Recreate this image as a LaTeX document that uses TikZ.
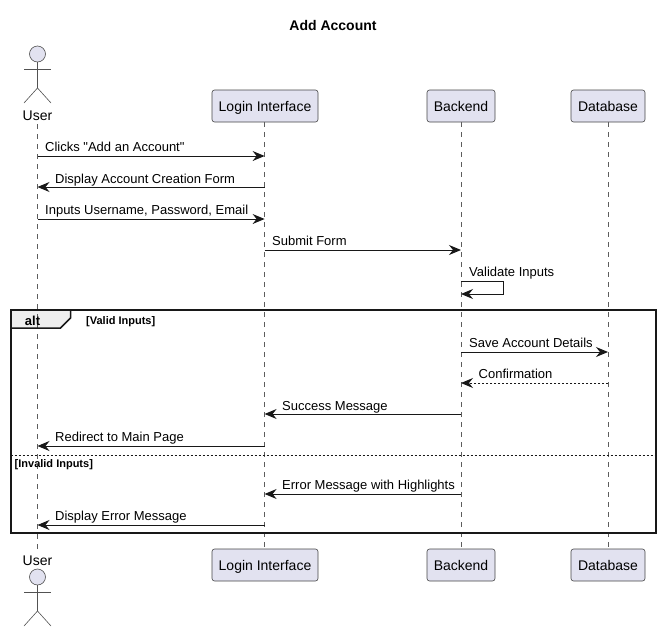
\documentclass[tikz,border=0pt]{standalone}
\usepackage{fontspec}
\setmainfont[Ligatures=TeXOff]{Liberation Sans}
\usepackage{tikz}
\usetikzlibrary{arrows.meta,positioning,calc}
\definecolor{linea}{HTML}{181818}
\definecolor{lila}{HTML}{E2E2F0}
\definecolor{gristab}{HTML}{EEEEEE}
\tikzset{
  partbox/.style={draw=linea!80,line width=.6pt,rounded corners=2.5pt,fill=lila,
    minimum height=32pt,inner sep=0pt,text height=12pt,text depth=1pt,font=\fontsize{14}{16}\selectfont},
  partword/.style={inner sep=0pt,text height=12pt,text depth=1pt,font=\fontsize{14}{16}\selectfont},
  lifeline/.style={draw=linea!70,line width=.6pt,dash pattern=on 5pt off 5pt},
  stick/.style={draw=linea!75,line width=.6pt},
  msg/.style={-{Stealth[length=12pt,width=10pt,inset=4pt]},draw=linea,line width=1pt},
  msgback/.style={msg,dash pattern=on 2pt off 2pt},
  msgword/.style={anchor=base west,inner sep=0pt,font=\fontsize{13}{15}\selectfont},
  guardword/.style={anchor=base west,inner sep=0pt,font=\fontsize{11}{13}\selectfont\bfseries},
  framebox/.style={draw=linea,line width=2pt},
  splitline/.style={draw=linea,line width=.8pt,dash pattern=on 2pt off 2pt}
}

\begin{document}
\begin{tikzpicture}[x=1pt,y=-1pt]
\useasboundingbox (0,0) rectangle (662,632);
\node[inner sep=0pt,font=\fontsize{14}{16}\selectfont\bfseries] (title) at (333,25) {Add Account};

% lifelines go under the boxes
\coordinate (userT) at (37.5,124);
\coordinate (userE) at (37.5,549);
\coordinate (loginT) at (264.6,122);
\coordinate (loginE) at (264.6,549);
\coordinate (backendT) at (461,122);
\coordinate (backendE) at (461,549);
\coordinate (databaseT) at (608,122);
\coordinate (databaseE) at (608,549);

% alt frame
\coordinate (fTL) at (10.5,310);
\coordinate (fBR) at (656,533);
\coordinate (tabA) at (10.5,328);
\coordinate (tabB) at (60.5,328);
\coordinate (tabC) at (70.5,318);
\coordinate (tabD) at (70.5,310);
\coordinate (splitL) at (10.5,455.5);
\coordinate (splitR) at (656,455.5);
\fill[gristab] (fTL)--(tabD)--(tabC)--(tabB)--(tabA)--cycle;

\draw[lifeline] (userT)--(userE);
\draw[lifeline] (loginT)--(loginE);
\draw[lifeline] (backendT)--(backendE);
\draw[lifeline] (databaseT)--(databaseE);

% participants
\node[partword] (user) at (37.5,115) {User};
\node[partbox,minimum width=106pt] (login) at (265,106) {Login Interface};
\node[partbox,minimum width=68pt] (backend) at (461,106) {Backend};
\node[partbox,minimum width=74pt] (database) at (608,106) {Database};
\node[partword] (userB) at (37.5,559.5) {User};
\node[partbox,minimum width=106pt] (loginB) at (265,565) {Login Interface};
\node[partbox,minimum width=68pt] (backendB) at (461,565) {Backend};
\node[partbox,minimum width=74pt] (databaseB) at (608,565) {Database};

% actors
\node[circle,stick,fill=lila,minimum size=16pt,inner sep=0pt] (head) at (37.5,54) {};
\coordinate (hip) at (37.5,88);
\coordinate (armL) at (24,69);
\coordinate (armR) at (51,69);
\coordinate (legL) at (24,103);
\coordinate (legR) at (51,103);
\draw[stick] (head)--(hip);
\draw[stick] (armL)--(armR);
\draw[stick] (legL)--(hip)--(legR);
\node[circle,stick,fill=lila,minimum size=16pt,inner sep=0pt] (headB) at (37.5,577) {};
\coordinate (hipB) at (37.5,611);
\coordinate (armLB) at (24,592);
\coordinate (armRB) at (51,592);
\coordinate (legLB) at (24,626);
\coordinate (legRB) at (51,626);
\draw[stick] (headB)--(hipB);
\draw[stick] (armLB)--(armRB);
\draw[stick] (legLB)--(hipB)--(legRB);

\draw[framebox] (fTL) rectangle (fBR);
\draw[line width=1.5pt,draw=linea] (tabA)--(tabB)--(tabC)--(tabD);
\draw[splitline] (splitL)--(splitR);
\node[anchor=base,inner sep=0pt,font=\fontsize{13}{15}\selectfont\bfseries] (altword) at (32.5,325) {alt};
\node[guardword] (valid) at (86,324) {[Valid Inputs]};
\node[guardword] (invalid) at (14.5,467) {[Invalid Inputs]};

% messages
\coordinate (r1) at (0,156);
\coordinate (r2) at (0,187);
\coordinate (r3) at (0,219);
\coordinate (r4) at (0,250);
\coordinate (r5) at (0,281);
\coordinate (r5b) at (0,294);
\coordinate (r5x) at (503,0);
\coordinate (r6) at (0,352);
\coordinate (r7) at (0,383);
\coordinate (r8) at (0,414);
\coordinate (r9) at (0,446);
\coordinate (r10) at (0,494);
\coordinate (r11) at (0,525);

\draw[msg] (userT|-r1)--(loginT|-r1);
\draw[msg] (loginT|-r2)--(userT|-r2);
\draw[msg] (userT|-r3)--(loginT|-r3);
\draw[msg] (loginT|-r4)--(backendT|-r4);
\draw[msg] (backendT|-r5)--(r5x|-r5)--(r5x|-r5b)--(backendT|-r5b);
\draw[msg] (backendT|-r6)--(databaseT|-r6);
\draw[msgback] (databaseT|-r7)--(backendT|-r7);
\draw[msg] (backendT|-r8)--(loginT|-r8);
\draw[msg] (loginT|-r9)--(userT|-r9);
\draw[msg] (backendT|-r10)--(loginT|-r10);
\draw[msg] (loginT|-r11)--(userT|-r11);

\node[msgword] (m1) at (45,151) {Clicks "Add an Account"};
\node[msgword] (m2) at (55,183) {Display Account Creation Form};
\node[msgword] (m3) at (45,214) {Inputs Username, Password, Email};
\node[msgword] (m4) at (272,245) {Submit Form};
\node[msgword] (m5) at (469,276) {Validate Inputs};
\node[msgword] (m6) at (469,347) {Save Account Details};
\node[msgword] (m7) at (478.5,378) {Confirmation};
\node[msgword] (m8) at (282,410) {Success Message};
\node[msgword] (m9) at (55,441) {Redirect to Main Page};
\node[msgword] (m10) at (282,489) {Error Message with Highlights};
\node[msgword] (m11) at (55,520) {Display Error Message};
\end{tikzpicture}
\end{document}
